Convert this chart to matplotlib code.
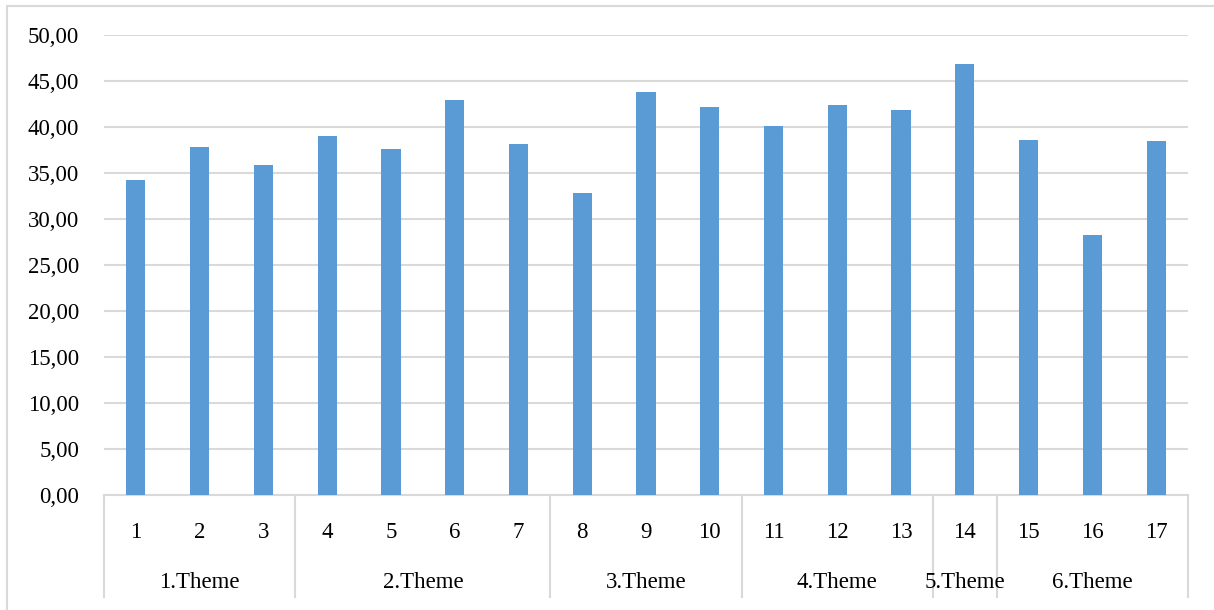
import matplotlib
matplotlib.use("Agg")
import matplotlib.pyplot as plt
from matplotlib.patches import Rectangle
import numpy as np

# data
items = [str(i) for i in range(1, 18)]
values = [34.2, 37.8, 35.9, 39.0, 37.6, 42.9, 38.1, 32.8, 43.8, 42.2,
          40.1, 42.4, 41.9, 46.8, 38.6, 28.3, 38.5]
themes = ["1.Theme", "2.Theme", "3.Theme", "4.Theme", "5.Theme", "6.Theme"]
theme_sizes = [3, 4, 3, 3, 1, 3]
yticks = [0, 5, 10, 15, 20, 25, 30, 35, 40, 45, 50]

plt.rcParams['font.family'] = ['Liberation Serif', 'DejaVu Serif']
FS = 16.5

W, H = 1214, 610
fig = plt.figure(figsize=(W / 100, H / 100), dpi=100)
# light outer chart border
fig.patches.append(Rectangle((7 / W, -0.1), 1.2, (H - 6) / H + 0.1,
                             transform=fig.transFigure, fill=False,
                             edgecolor='#d9d9d9', linewidth=1.5))

ax = fig.add_axes([104 / W, (H - 495) / H, (1188 - 104) / W, (495 - 35) / H])

x = np.arange(len(values))
ax.bar(x, values, width=0.3, color='#5b9bd5', zorder=3)

ax.set_xlim(-0.5, len(values) - 0.5)
ax.set_ylim(0, 50)
ax.set_yticks(yticks)
ax.set_yticklabels([f"{v:.2f}".replace('.', ',') for v in yticks], fontsize=FS)
ax.tick_params(axis='y', length=0, pad=18)
ax.set_xticks([])
ax.grid(axis='y', color='#d9d9d9', linewidth=1.5, zorder=0)
for s in ['top', 'right', 'left']:
    ax.spines[s].set_visible(False)
ax.spines['bottom'].set_color('#d9d9d9')
ax.spines['bottom'].set_linewidth(1.5)

# two level category axis
trans = ax.get_xaxis_transform()
for xi, lab in zip(x, items):
    ax.text(xi, -38 / 460, lab, transform=trans, ha='center', va='center',
            fontsize=FS, clip_on=False)

bounds = np.concatenate([[0], np.cumsum(theme_sizes)])
for i, th in enumerate(themes):
    start, end = bounds[i], bounds[i + 1]
    ax.text((start + end - 1) / 2, -88 / 460, th, transform=trans,
            ha='center', va='center', fontsize=FS, clip_on=False)
for b in bounds:
    ax.plot([b - 0.5, b - 0.5], [0, -102 / 460], transform=trans,
            color='#d9d9d9', linewidth=1.5, clip_on=False)

fig.savefig("out.png", dpi=100)
